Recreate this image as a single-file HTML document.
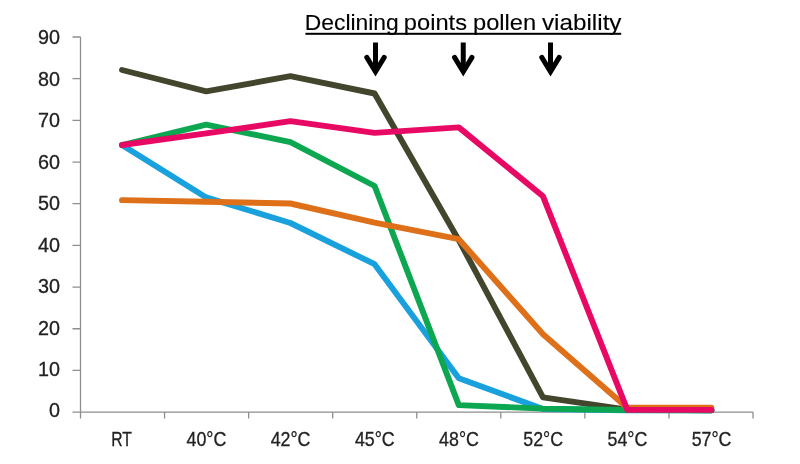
<!DOCTYPE html>
<html lang="en">
<head>
<meta charset="utf-8">
<title>Declining points pollen viability</title>
<style>
html,body{margin:0;padding:0;background:#fff;}
body{width:800px;height:464px;overflow:hidden;}
svg{display:block;}
text{font-family:"Liberation Sans",sans-serif;}
.ax{stroke:#8e8e8e;stroke-width:1.3;fill:none;}
.yl{font-size:20px;fill:#222;stroke:#222;stroke-width:0.3px;text-anchor:end;}
.xl{font-size:19.8px;fill:#222;stroke:#222;stroke-width:0.3px;text-anchor:middle;}
.ttl{font-size:22px;fill:#000;stroke:#000;stroke-width:0.12px;}
.ln{fill:none;stroke-linecap:round;stroke-linejoin:round;}
.ar{fill:none;stroke:#000;stroke-width:5px;}
</style>
</head>
<body>
<svg width="800" height="464" viewBox="0 0 800 464">
<rect width="800" height="464" fill="#ffffff"/>

<path class="ax" d="M80.5 37.0V412.1M80.5 412.1H753.0"/>
<path class="ax" d="M72.5 412.10H80.5M72.5 370.42H80.5M72.5 328.74H80.5M72.5 287.07H80.5M72.5 245.39H80.5M72.5 203.71H80.5M72.5 162.03H80.5M72.5 120.36H80.5M72.5 78.68H80.5M72.5 37.00H80.5M80.50 412.1V418.6M164.56 412.1V418.6M248.62 412.1V418.6M332.69 412.1V418.6M416.75 412.1V418.6M500.81 412.1V418.6M584.88 412.1V418.6M668.94 412.1V418.6M753.00 412.1V418.6"/>
<text class="yl" x="60.0" y="417.40" textLength="11.0" lengthAdjust="spacingAndGlyphs">0</text>
<text class="yl" x="60.0" y="375.96" textLength="22.0" lengthAdjust="spacingAndGlyphs">10</text>
<text class="yl" x="60.0" y="334.51" textLength="22.0" lengthAdjust="spacingAndGlyphs">20</text>
<text class="yl" x="60.0" y="293.07" textLength="22.0" lengthAdjust="spacingAndGlyphs">30</text>
<text class="yl" x="60.0" y="251.62" textLength="22.0" lengthAdjust="spacingAndGlyphs">40</text>
<text class="yl" x="60.0" y="210.18" textLength="22.0" lengthAdjust="spacingAndGlyphs">50</text>
<text class="yl" x="60.0" y="168.73" textLength="22.0" lengthAdjust="spacingAndGlyphs">60</text>
<text class="yl" x="60.0" y="127.29" textLength="22.0" lengthAdjust="spacingAndGlyphs">70</text>
<text class="yl" x="60.0" y="85.84" textLength="22.0" lengthAdjust="spacingAndGlyphs">80</text>
<text class="yl" x="60.0" y="44.40" textLength="22.0" lengthAdjust="spacingAndGlyphs">90</text>
<text class="xl" x="121.6" y="445.7" textLength="20.6" lengthAdjust="spacingAndGlyphs">RT</text>
<text class="xl" x="206.4" y="445.7" textLength="39.8" lengthAdjust="spacingAndGlyphs">40°C</text>
<text class="xl" x="290.6" y="445.7" textLength="39.8" lengthAdjust="spacingAndGlyphs">42°C</text>
<text class="xl" x="374.8" y="445.7" textLength="39.8" lengthAdjust="spacingAndGlyphs">45°C</text>
<text class="xl" x="459.0" y="445.7" textLength="39.8" lengthAdjust="spacingAndGlyphs">48°C</text>
<text class="xl" x="543.2" y="445.7" textLength="39.8" lengthAdjust="spacingAndGlyphs">52°C</text>
<text class="xl" x="627.4" y="445.7" textLength="39.8" lengthAdjust="spacingAndGlyphs">54°C</text>
<text class="xl" x="711.6" y="445.7" textLength="39.8" lengthAdjust="spacingAndGlyphs">57°C</text>
<polyline class="ln" stroke="#18a1dd" stroke-width="5.9" points="122.0,145.0 206.2,197.4 290.4,223.0 374.6,264.2 458.8,378.3 543.0,409.0 627.2,410.2 711.4,410.2"/>
<polyline class="ln" stroke="#43452c" stroke-width="5.9" points="122.0,70.0 206.2,91.4 290.4,76.2 374.6,93.5 458.8,240.2 543.0,397.3 627.2,409.6 711.4,410.2"/>
<polyline class="ln" stroke="#0ca750" stroke-width="5.9" points="122.0,145.0 206.2,124.6 290.4,142.2 374.6,186.0 458.8,405.1 543.0,408.6 627.2,410.0 711.4,410.2"/>
<polyline class="ln" stroke="#de7019" stroke-width="5.9" points="122.0,200.1 206.2,201.8 290.4,203.5 374.6,222.6 458.8,239.2 543.0,334.2 627.2,407.8 711.4,407.8"/>
<polyline class="ln" stroke="#e80964" stroke-width="5.9" points="122.0,145.0 206.2,133.4 290.4,121.2 374.6,132.9 458.8,127.4 543.0,196.3 627.2,409.7 711.4,409.9"/>
<text class="ttl" y="29.7"><tspan x="304.8" textLength="94" lengthAdjust="spacingAndGlyphs">Declining</tspan> <tspan x="403.8" textLength="63.2" lengthAdjust="spacingAndGlyphs">points</tspan> <tspan x="473" textLength="63.2" lengthAdjust="spacingAndGlyphs">pollen</tspan> <tspan x="542" textLength="79.5" lengthAdjust="spacingAndGlyphs">viability</tspan></text>
<rect x="305.4" y="32.8" width="315.8" height="2.0" fill="#000"/>
<path class="ar" stroke-linejoin="miter" stroke-miterlimit="10" d="M375.5 42.5V70"/>
<path class="ar" stroke-linecap="round" stroke-linejoin="miter" stroke-miterlimit="10" d="M366.8 57.4L375.5 71.7L384.2 57.4"/>
<path class="ar" stroke-linejoin="miter" stroke-miterlimit="10" d="M463.25 42.5V70"/>
<path class="ar" stroke-linecap="round" stroke-linejoin="miter" stroke-miterlimit="10" d="M454.55 57.4L463.25 71.7L471.95 57.4"/>
<path class="ar" stroke-linejoin="miter" stroke-miterlimit="10" d="M550.5 42.5V70"/>
<path class="ar" stroke-linecap="round" stroke-linejoin="miter" stroke-miterlimit="10" d="M541.8 57.4L550.5 71.7L559.2 57.4"/>
</svg>
</body>
</html>
